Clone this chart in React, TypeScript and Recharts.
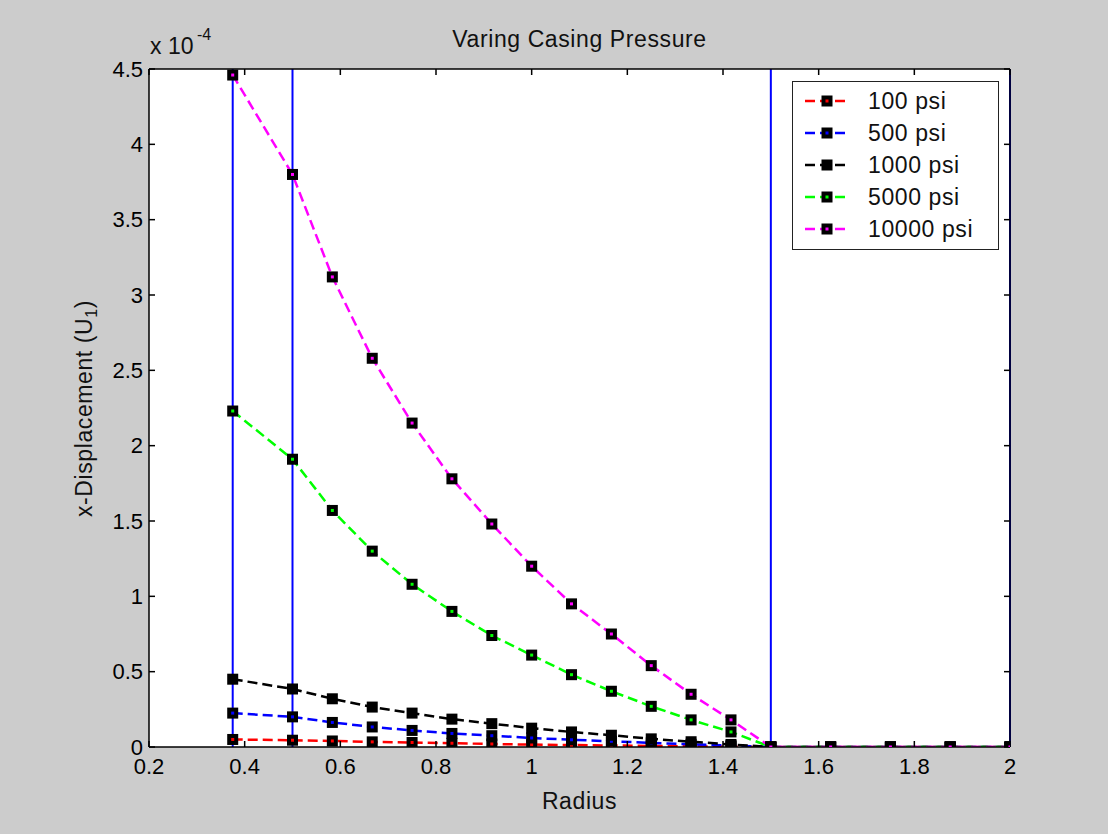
import { LineChart, Line, XAxis, YAxis, CartesianGrid, ReferenceLine, Legend } from 'recharts';

// radius stations (x) and x-displacement values, in units of 1e-4
const radius = [0.375, 0.5, 0.5833, 0.6667, 0.75, 0.8333, 0.9167, 1.0, 1.0833, 1.1667, 1.25, 1.3333, 1.4167, 1.5, 1.625, 1.75, 1.875, 2.0];
const psi100 = [0.05, 0.045, 0.04, 0.034, 0.03, 0.025, 0.02, 0.016, 0.013, 0.01, 0.007, 0.005, 0.002, 0, 0, 0, 0, 0];
const psi500 = [0.225, 0.2, 0.163, 0.133, 0.11, 0.09, 0.075, 0.06, 0.048, 0.038, 0.027, 0.018, 0.009, 0, 0, 0, 0, 0];
const psi1000 = [0.45, 0.385, 0.32, 0.265, 0.225, 0.185, 0.155, 0.125, 0.1, 0.078, 0.054, 0.035, 0.017, 0, 0, 0, 0, 0];
const psi5000 = [2.23, 1.91, 1.57, 1.3, 1.08, 0.9, 0.74, 0.61, 0.48, 0.37, 0.27, 0.18, 0.1, 0, 0, 0, 0, 0];
const psi10000 = [4.46, 3.8, 3.12, 2.58, 2.15, 1.78, 1.48, 1.2, 0.95, 0.75, 0.54, 0.35, 0.18, 0, 0, 0, 0, 0];

const seriesNames = ['100 psi', '500 psi', '1000 psi', '5000 psi', '10000 psi'];
const seriesColors = ['#ff0000', '#0000ff', '#000000', '#00ff00', '#ff00ff'];
const seriesValues = [psi100, psi500, psi1000, psi5000, psi10000];

// layer boundaries drawn as vertical blue lines
const boundaries = [0.375, 0.5, 1.5, 2];

const xTicks = [0.2, 0.4, 0.6, 0.8, 1, 1.2, 1.4, 1.6, 1.8, 2];
const yTicks = [0, 0.5, 1, 1.5, 2, 2.5, 3, 3.5, 4, 4.5];

const data = radius.map((r, i) => {
  const row: Record<string, number> = { r };
  seriesNames.forEach((name, k) => {
    row[name] = seriesValues[k][i];
  });
  return row;
});

const FONT = '"Liberation Sans", Arial, sans-serif';
const tickStyle = { fill: '#000', fontSize: 22, fontFamily: FONT };
const fmt = (v: number) => String(Number(v.toFixed(1)));
const blank = () => '';
const axisLine = { stroke: '#000', strokeWidth: 1.5 };

const squareDot = (color: string) => (p: any) => (
  <g key={`${color}-${p.index}`}>
    <rect x={p.cx - 5.5} y={p.cy - 5.5} width={11} height={11} fill="#000" />
    <rect x={p.cx - 1.5} y={p.cy - 1.5} width={3} height={3} fill={color} />
  </g>
);

const LegendBox = () => (
  <div
    style={{
      width: 207,
      height: 169,
      boxSizing: 'border-box',
      background: '#fff',
      border: '1.5px solid #222',
      paddingTop: 3,
      fontFamily: FONT,
      fontSize: 23,
      color: '#111',
    }}
  >
    {seriesNames.map((name, k) => (
      <div key={name} style={{ height: 32, display: 'flex', alignItems: 'center' }}>
        <svg width={75} height={32} style={{ flex: 'none' }}>
          <line x1={12} x2={56} y1={16} y2={16} stroke={seriesColors[k]} strokeWidth={2.5} strokeDasharray="10 5" />
          <rect x={28.5} y={10.5} width={11} height={11} fill="#000" />
          <rect x={32.5} y={14.5} width={3} height={3} fill={seriesColors[k]} />
        </svg>
        <span style={{ letterSpacing: 0.6 }}>{name}</span>
      </div>
    ))}
  </div>
);

export default function App() {
  return (
    <div
      style={{
        position: 'absolute',
        left: 0,
        top: 0,
        width: 1108,
        height: 834,
        background: '#cccccc',
        fontFamily: FONT,
        overflow: 'hidden',
      }}
    >
      <LineChart width={1108} height={834} data={data} margin={{ top: 59, right: 88, bottom: 57, left: 89 }}>
        <CartesianGrid fill="#ffffff" horizontal={false} vertical={false} />
        <XAxis
          dataKey="r"
          type="number"
          domain={[0.2, 2]}
          ticks={xTicks}
          interval={0}
          allowDataOverflow
          height={30}
          tickSize={-6}
          tickMargin={17}
          tickFormatter={fmt}
          tick={tickStyle}
          axisLine={axisLine}
          tickLine={axisLine}
        />
        <XAxis
          xAxisId="top"
          dataKey="r"
          orientation="top"
          type="number"
          domain={[0.2, 2]}
          ticks={xTicks}
          interval={0}
          allowDataOverflow
          height={10}
          tickSize={-6}
          tickFormatter={blank}
          axisLine={axisLine}
          tickLine={axisLine}
        />
        <YAxis
          type="number"
          domain={[0, 4.5]}
          ticks={yTicks}
          interval={0}
          allowDataOverflow
          width={60}
          tickSize={-6}
          tickMargin={12}
          tickFormatter={fmt}
          tick={tickStyle}
          axisLine={axisLine}
          tickLine={axisLine}
        />
        <YAxis
          yAxisId="right"
          dataKey="10000 psi"
          orientation="right"
          type="number"
          domain={[0, 4.5]}
          ticks={yTicks}
          interval={0}
          allowDataOverflow
          width={10}
          tickSize={-6}
          tickFormatter={blank}
          axisLine={axisLine}
          tickLine={axisLine}
        />
        {boundaries.map((b) => (
          <ReferenceLine key={b} x={b} stroke="#0000ff" strokeWidth={2} />
        ))}
        {seriesNames.map((name, k) => (
          <Line
            key={name}
            dataKey={name}
            name={name}
            type="linear"
            stroke={seriesColors[k]}
            strokeWidth={2.5}
            strokeDasharray="10 5"
            dot={squareDot(seriesColors[k])}
            activeDot={false}
            isAnimationActive={false}
          />
        ))}
        <Legend
          layout="vertical"
          align="center"
          verticalAlign="middle"
          content={() => <LegendBox />}
          wrapperStyle={{ left: 792, top: 81, width: 207, height: 169 }}
        />
      </LineChart>

      <div style={{ position: 'absolute', left: 149, width: 861, top: 28, fontSize: 23, lineHeight: '23px', textAlign: 'center', color: '#111', letterSpacing: 0.6 }}>
        Varing Casing Pressure
      </div>
      <div style={{ position: 'absolute', left: 149, width: 861, top: 790, fontSize: 23, lineHeight: '23px', textAlign: 'center', color: '#111', letterSpacing: 0.6 }}>
        Radius
      </div>
      <div
        style={{
          position: 'absolute',
          left: 84 - 200,
          top: 408 - 11.5,
          width: 400,
          height: 23,
          fontSize: 23,
          lineHeight: '23px',
          textAlign: 'center',
          color: '#111',
          letterSpacing: 0.6,
          transform: 'rotate(-90deg)',
          whiteSpace: 'nowrap',
        }}
      >
        x-Displacement (U<sub style={{ fontSize: 16, verticalAlign: '-5px' }}>1</sub>)
      </div>
      <div style={{ position: 'absolute', left: 150, top: 35, fontSize: 23, lineHeight: '23px', color: '#111', whiteSpace: 'nowrap' }}>
        x 10
      </div>
      <div style={{ position: 'absolute', left: 197, top: 27, fontSize: 16, lineHeight: '16px', color: '#111' }}>
        -4
      </div>
    </div>
  );
}
